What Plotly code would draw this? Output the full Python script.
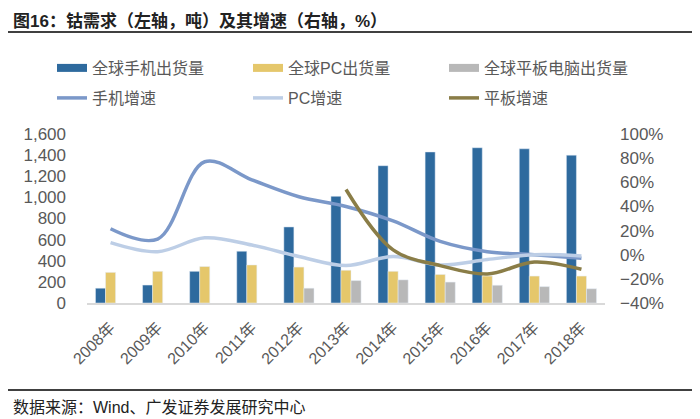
import plotly.graph_objects as go

# data
years = ['2008年', '2009年', '2010年', '2011年', '2012年', '2013年',
         '2014年', '2015年', '2016年', '2017年', '2018年']
phone_ship = [140, 170, 300, 490, 720, 1010, 1300, 1430, 1470, 1460, 1400]
pc_ship = [290, 300, 345, 360, 340, 310, 300, 270, 255, 255, 255]
tablet_ship = [None, None, None, None, 140, 212, 219, 198, 168, 155, 135]
phone_growth = [21.5, 13, 77, 62, 48, 40, 28, 11, 2.5, 0, -3]
pc_growth = [10, 2.5, 14, 8, -1.5, -9, -1.5, -8.5, -4, 0, -1]
tablet_growth = [None, None, None, None, None, 54, 4, -9, -16, -6, -12]

# the page body has an 8px margin, so the figure is drawn 8px smaller
# and every reference pixel position is shifted by OFF
OFF = 8
W, H = 700 - OFF, 419 - OFF
L, R, T, B = 87 - OFF, 95, 134 - OFF, 124 - OFF
pw, ph = W - L - R, H - T - B

def px_x(x):
    return (x - OFF - L) / pw

def px_y(y):
    return (H - B - (y - OFF)) / ph

FONT = 'Liberation Sans, Arial, Noto Sans CJK SC'
GREY = '#595959'

c_phone, c_pc, c_tab = '#2E6A9E', '#E5C76B', '#B8B8B8'
l_phone, l_pc, l_tab = '#7B98C9', '#BDCEE6', '#8A7D47'

fig = go.Figure()
fig.add_bar(x=years, y=phone_ship, marker_color=c_phone, showlegend=False)
fig.add_bar(x=years, y=pc_ship, marker_color=c_pc, showlegend=False)
fig.add_bar(x=years, y=tablet_ship, marker_color=c_tab, showlegend=False)

# legend-only entries so the bar keys look like wide blocks
bar_keys = [('全球手机出货量', c_phone), ('全球PC出货量', c_pc), ('全球平板电脑出货量', c_tab)]
for i, (name, col) in enumerate(bar_keys):
    fig.add_scatter(x=[None], y=[None], mode='lines', name=name,
                    line=dict(color=col, width=8),
                    legend='legend' if i == 0 else 'legend%d' % (i + 1))

lines = [('手机增速', phone_growth, l_phone),
         ('PC增速', pc_growth, l_pc),
         ('平板增速', tablet_growth, l_tab)]
for i, (name, vals, col) in enumerate(lines):
    fig.add_scatter(x=years, y=vals, name=name, yaxis='y2', mode='lines',
                    line=dict(color=col, width=3.5, shape='spline'),
                    legend='legend%d' % (i + 4))

# one legend box per key so nothing wraps
col_x = [52, 248, 444]
row_y = [68, 98]
legends = {}
for i in range(6):
    key = 'legend' if i == 0 else 'legend%d' % (i + 1)
    legends[key] = dict(orientation='h', xanchor='left', yanchor='middle',
                        x=px_x(col_x[i % 3]), y=px_y(row_y[i // 3]),
                        font=dict(family=FONT, size=16, color=GREY),
                        bgcolor='rgba(0,0,0,0)')

fig.update_layout(
    width=W, height=H,
    margin=dict(l=L, r=R, t=T, b=B),
    plot_bgcolor='white', paper_bgcolor='white',
    barmode='group', bargap=0.36, bargroupgap=0,
    font=dict(family=FONT, color=GREY),
    title=dict(text='<b>图16：钴需求（左轴，吨）及其增速（右轴，%）</b>',
               x=(13 - OFF) / W, xref='container', xanchor='left',
               y=1 - (21 - OFF) / H, yref='container', yanchor='middle',
               font=dict(family=FONT, size=17, color='#222222')),
    xaxis=dict(showgrid=False, showline=True, linecolor='#D9D9D9', linewidth=2,
               tickangle=-45, ticks='', ticklabelstandoff=7,
               tickfont=dict(size=16, color=GREY)),
    yaxis=dict(range=[0, 1600], dtick=200, tickformat=',', showgrid=False,
               zeroline=False, ticks='', ticklabelstandoff=20,
               tickfont=dict(size=17, color=GREY)),
    yaxis2=dict(range=[-40, 100], dtick=20, ticksuffix='%', overlaying='y',
                side='right', showgrid=False, zeroline=False, ticks='',
                ticklabelstandoff=14, tickfont=dict(size=17, color=GREY)),
    **legends
)

fig.add_shape(type='line', xref='paper', yref='paper', x0=px_x(0), x1=px_x(700),
              y0=px_y(32), y1=px_y(32), line=dict(color='#404040', width=2))
fig.add_shape(type='line', xref='paper', yref='paper', x0=px_x(0), x1=px_x(700),
              y0=px_y(390), y1=px_y(390), line=dict(color='#404040', width=2))
fig.add_annotation(text='数据来源：Wind、广发证券发展研究中心', xref='paper', yref='paper',
                   x=px_x(11), y=px_y(407), xanchor='left', yanchor='middle',
                   showarrow=False, font=dict(family=FONT, size=16, color='#222222'))

fig.write_html('out.html')
